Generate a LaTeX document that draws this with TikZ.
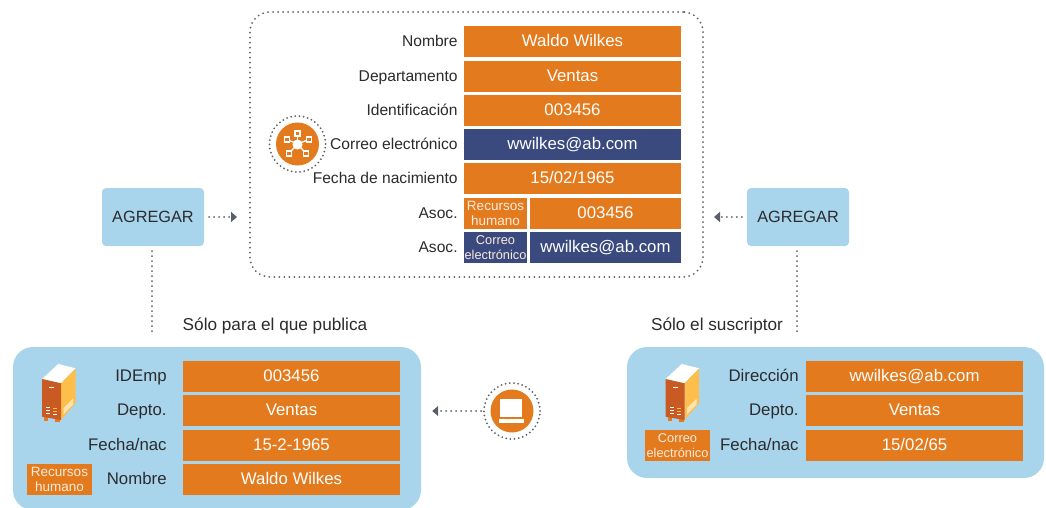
\documentclass[tikz,border=0pt]{standalone}
\usepackage{fontspec}
\setmainfont{Liberation Sans}
\usepackage{xcolor}
\usetikzlibrary{arrows.meta}
\definecolor{cellorange}{HTML}{E37B1E}
\definecolor{cellblue}{HTML}{3A4A7E}
\definecolor{skyblue}{HTML}{A8D5EC}
\definecolor{dotgray}{HTML}{5A6068}
\definecolor{inktext}{HTML}{2B2B2D}
\definecolor{towerfront}{HTML}{C95A24}
\definecolor{towerside}{HTML}{FDBE4C}
\definecolor{towervent}{HTML}{FFE3AE}
\tikzset{
  cell/.style={fill=cellorange, text=white, minimum width=217pt, minimum height=31pt, inner sep=0pt, text height=12pt, text depth=2.2pt, font=\fontsize{16.8}{18}\selectfont},
  mailcell/.style={cell, fill=cellblue},
  halfcell/.style={cell, minimum width=151pt},
  mailhalf/.style={halfcell, fill=cellblue},
  tagcell/.style={fill=cellorange, text=white!85!cellorange, minimum width=65pt, minimum height=31pt, inner sep=0pt, align=center, font=\fontsize{13.5}{14.5}\selectfont},
  longtag/.style={tagcell, font=\fontsize{12.8}{14.5}\selectfont},
  mailtag/.style={longtag, fill=cellblue, minimum width=63pt},
  addbox/.style={fill=skyblue, rounded corners=4pt, minimum width=102pt, minimum height=58pt, text=inktext, font=\fontsize{16.3}{18}\selectfont},
  panel/.style={fill=skyblue, rounded corners=20pt, inner sep=0pt},
  dots/.style={draw=dotgray, line width=2pt, line cap=round, dash pattern=on 0pt off 5pt},
  ringdots/.style={dots, dash pattern=on 0pt off 4.2pt},
  flow/.style={dots, -{Triangle[length=6pt,width=10pt,fill=dotgray]}},
  caption/.style={text=inktext, inner sep=0pt, font=\fontsize{17.2}{18}\selectfont},
  mainlabels/.style={label distance=6pt, every label/.style={text=inktext, inner sep=0pt, text height=12pt, text depth=2.5pt, font=\fontsize{15.6}{18}\selectfont}},
  sidelabels/.style={every label/.style={text=inktext, inner sep=0pt, text height=12pt, text depth=2.5pt, font=\fontsize{16.8}{18}\selectfont}},
  servericon/.pic={
    \fill[white] (0,15) -- (16.3,0) -- (33.7,4.3) -- (19,19.3) -- cycle;
    \fill[cellorange] (2,52) rectangle (6,56.5);
    \fill[cellorange] (13,54) rectangle (18,58);
    \fill[towerside] (19,19.3) -- (33.7,4.3) -- (33.7,39) -- (19,56) -- cycle;
    \fill[towerfront] (0,15) -- (19,19.3) -- (19,56) -- (0,52.7) -- cycle;
    \fill[white] (7,23.2) rectangle (12,24.4);
    \fill[white] (4,43) rectangle (8,44.2);
    \fill[white] (4,46) rectangle (8,47.2);
    \fill[white] (4,49) rectangle (8,50.2);
    \fill[towerside] (11,44) rectangle (15,45.2);
    \fill[towerside] (11,47) rectangle (15,48.2);
    \fill[white] (11,50) rectangle (15,51.2);
    \fill[towervent] (21.5,44) -- (31,34.5) -- (31,40.5) -- (21.5,50.5) -- cycle;
  }
}
\begin{document}
\begin{tikzpicture}[x=1pt, y=-1pt]
  \useasboundingbox (0,0) rectangle (1046,508);

  % Central record
  \node (record) at (476.5,144.5) [dots, rounded corners=20pt, minimum width=453pt, minimum height=265pt, inner sep=0pt] {};
  \begin{scope}[mainlabels]
    \node (nombre) at (572.5,41.5) [cell, label=left:Nombre] {Waldo Wilkes};
    \node (departamento) at (572.5,76.5) [cell, label=left:Departamento] {Ventas};
    \node (ident) at (572.5,110.5) [cell, label=left:Identificación] {003456};
    \node (correo) at (572.5,144.5) [mailcell, label=left:Correo electrónico] {wwilkes@ab.com};
    \node (fecha) at (572.5,178.5) [cell, label=left:Fecha de nacimiento] {15/02/1965};
    \node (asocrh) at (495.5,213.5) [tagcell, minimum width=63pt, label=left:Asoc.] {Recursos\\humano};
    \node (asocrhval) at (605.5,213.5) [halfcell] {003456};
    \node (asocmail) at (495.5,247.5) [mailtag, label=left:Asoc.] {Correo\\electrónico};
    \node (asocmailval) at (605.5,247.5) [mailhalf] {wwilkes@ab.com};
  \end{scope}

  % Hub icon
  \node (hubring) at (297.5,144) [ringdots, circle, minimum size=56pt, inner sep=0pt] {};
  \node (hub) at (297.5,144) [circle, fill=cellorange, minimum size=43pt, inner sep=0pt] {};
  \foreach \sx/\sy in {297.5/133.5, 287/139.5, 309/139.5, 289/153.5, 306/153.5} {
    \draw[white, line width=1.3pt] (hub.center) -- (\sx,\sy);
    \draw[white, line width=1.2pt, fill=cellorange] (\sx-2.5,\sy-2.5) rectangle (\sx+2.5,\sy+2.5);
  }
  \node (hubcore) at (297.5,144.5) [circle, fill=white, minimum size=10pt, inner sep=0pt] {};

  % Add boxes
  \node (addleft) at (153,217) [addbox] {AGREGAR};
  \node (addright) at (798,217) [addbox] {AGREGAR};
  \draw[flow, shorten <=5pt, shorten >=12pt] (addleft.east) -- (addleft.east -| record.west);
  \draw[flow, shorten <=5pt, shorten >=10pt] (addright.west) -- (addright.west -| record.east);

  % Publisher side
  \node (pubpanel) at (217,428.5) [panel, minimum width=408pt, minimum height=163pt] {};
  \node (pubcaption) at (275,326) [caption] {Sólo para el que publica};
  \coordinate (pubend) at (152,332);
  \draw[dots, shorten <=5pt] (addleft.south -| pubend) -- (pubend);
  \pic at (42,364) {servericon};
  \begin{scope}[sidelabels, label distance=16pt]
    \node (idemp) at (291.5,376.5) [cell, label=left:IDEmp] {003456};
    \node (depto) at (291.5,410.5) [cell, label=left:Depto.] {Ventas};
    \node (fechanac) at (291.5,445.5) [cell, label=left:Fecha/nac] {15-2-1965};
    \node (pubnombre) at (291.5,479.5) [cell, label=left:Nombre] {Waldo Wilkes};
  \end{scope}
  \node (pubtag) at (59.5,479.5) [tagcell] {Recursos\\humano};

  % Laptop icon
  \node (lapring) at (512,411) [ringdots, circle, minimum size=56pt, inner sep=0pt] {};
  \node (lap) at (512,411) [circle, fill=cellorange, minimum size=43pt, inner sep=0pt] {};
  \fill[white] (500,399) rectangle (522,416.5);
  \fill[white] (499,419) rectangle (524,423);
  \draw[flow, shorten <=2pt, shorten >=11pt] (lapring.west) -- (lapring.west -| pubpanel.east);

  % Subscriber side
  \node (subpanel) at (835.5,412.5) [panel, minimum width=417pt, minimum height=131pt] {};
  \node (subcaption) at (717,326) [caption] {Sólo el suscriptor};
  \coordinate (subend) at (797,332);
  \draw[dots, shorten <=5pt] (addright.south -| subend) -- (subend);
  \pic at (665.5,364) {servericon};
  \begin{scope}[sidelabels, label distance=7pt]
    \node (direccion) at (914.5,376.5) [cell, label=left:Dirección] {wwilkes@ab.com};
    \node (subdepto) at (914.5,410.5) [cell, label=left:Depto.] {Ventas};
    \node (subfecha) at (914.5,445.5) [cell, label=left:Fecha/nac] {15/02/65};
  \end{scope}
  \node (subtag) at (677.5,445.5) [longtag] {Correo\\electrónico};
\end{tikzpicture}
\end{document}
